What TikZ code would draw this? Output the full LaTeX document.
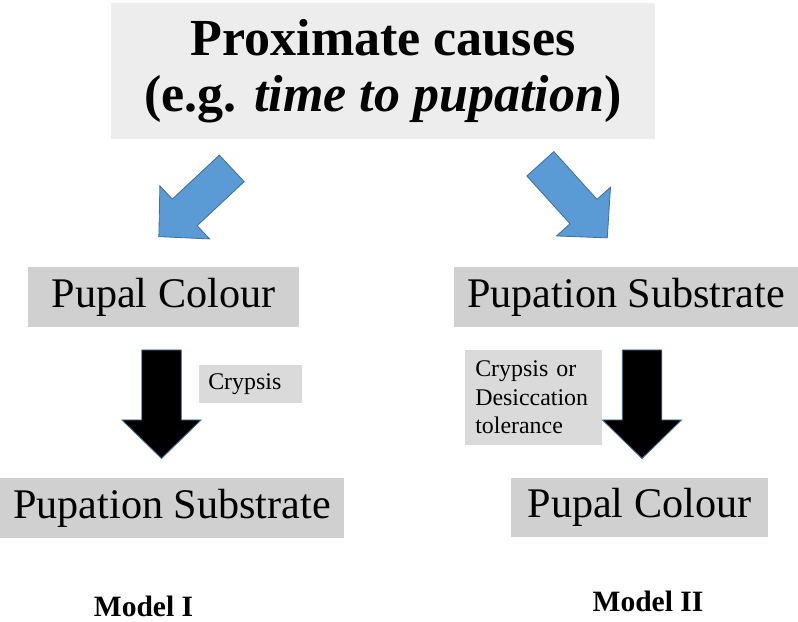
\documentclass[tikz,border=0pt]{standalone}
\usepackage{fontspec}
\setmainfont{Liberation Serif}

\definecolor{topgray}{HTML}{EDEDED}
\definecolor{boxgray}{HTML}{D0D0D0}
\definecolor{notegray}{HTML}{DADADA}
\definecolor{arrowblue}{HTML}{5B9BD5}
\definecolor{arrowline}{HTML}{41719C}

% block arrow, tail at the origin, pointing along +x
\tikzset{
  blockarrow/.pic={
    \path[pic actions] (0,-19.75) -- (70,-19.75) -- (70,-39.5) -- (108.5,0)
      -- (70,39.5) -- (70,19.75) -- (0,19.75) -- cycle;
  }
}

\begin{document}
\begin{tikzpicture}[x=0.025cm,y=-0.025cm,
  causebox/.style={fill=topgray,inner sep=0pt,align=center,
    minimum width=13.6cm,minimum height=3.4cm,
    font=\bfseries\fontsize{37}{39.8}\selectfont},
  traitbox/.style={fill=boxgray,inner sep=0pt,minimum height=1.5cm,
    font=\fontsize{30}{36}\selectfont},
  notebox/.style={fill=notegray,inner ysep=0pt,align=left,
    font=\fontsize{17}{20.3}\selectfont},
  modellabel/.style={inner sep=1pt,font=\bfseries\fontsize{21}{25}\selectfont},
  blackarrow/.style={fill=black,draw=arrowline,line width=0.6pt},
  bluearrow/.style={fill=arrowblue,draw=arrowline,line width=0.6pt,scale=0.92}]
\useasboundingbox (0,0) rectangle (798,622);

\node[causebox] (cause) at (383,71) {Proximate causes\\(e.g. \textit{time to pupation})};

% Model I
\node[traitbox,minimum width=6.775cm] (colourI) at (163.5,297) {Pupal Colour};
\node[traitbox,minimum width=8.6cm] (substrateI) at (172,508) {Pupation Substrate};
\node[notebox,anchor=west,text width=2.125cm,inner xsep=0.225cm,minimum height=0.95cm] (noteI) at (199,384) {Crypsis};
\node[modellabel,anchor=base] (modelI) at (143.5,617) {Model I};

% Model II
\node[traitbox,minimum width=8.6cm] (substrateII) at (626,297) {Pupation Substrate};
\node[traitbox,minimum width=6.425cm,minimum height=1.475cm] (colourII) at (639.5,507.5) {Pupal Colour};
\node[notebox,anchor=west,text width=2.925cm,inner xsep=0.25cm,minimum height=2.375cm] (noteII) at (465,397.5) {Crypsis or\\Desiccation\\tolerance};
\node[modellabel,anchor=base] (modelII) at (648,612) {Model II};

% arrows
\coordinate (causeI) at (231.75,168.4);
\coordinate (causeII) at (540.35,163.8);
\coordinate (stepI) at (161.5,350);
\coordinate (stepII) at (642,350);
\pic[bluearrow,rotate=-136.9] at (causeI) {blockarrow};
\pic[bluearrow,rotate=-47.9] at (causeII) {blockarrow};
\pic[blackarrow,rotate=-90] at (stepI) {blockarrow};
\pic[blackarrow,rotate=-90] at (stepII) {blockarrow};
\end{tikzpicture}
\end{document}
